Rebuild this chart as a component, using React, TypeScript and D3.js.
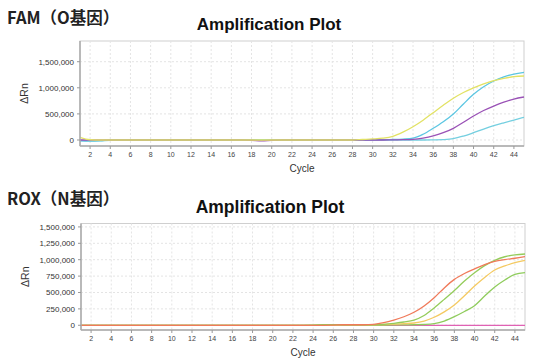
import * as d3 from 'd3';

const cycles = d3.range(1, 46);
const xTicks = d3.range(2, 46, 2);

// FAM (O gene)
const famYellow = [50000, 5000, 0, 0, 0, 0, 0, 0, 0, 0, 0, 0, 0, 0, 0, 0, 0, 0, 0, 0, 0, 0, 0, 0, 0, 0, 0, 0, 10000, 20000, 35000, 70000, 150000, 255000, 380000, 523000, 665000, 800000, 910000, 1000000, 1075000, 1136000, 1180000, 1213000, 1226000];
const famCyan = [-10000, -15000, -10000, 0, 0, 0, 0, 0, 0, 0, 0, 0, 0, 0, 0, 0, 0, 0, 0, 0, 0, 0, 0, 0, 0, 0, 0, 0, 0, 0, 5000, 10000, 18000, 35000, 110000, 224000, 350000, 498000, 690000, 875000, 1020000, 1130000, 1210000, 1264000, 1297000];
const famPurple = [0, 0, 0, 0, 0, 0, 0, 0, 0, 0, 0, 0, 0, 0, 0, 0, 0, -5000, -15000, -5000, 0, 0, 0, 0, 0, 0, 0, 0, 0, 0, 0, 3000, 6000, 12000, 35000, 77000, 140000, 224000, 340000, 460000, 565000, 651000, 725000, 785000, 824000];
const famLightCyan = [-15000, -20000, -15000, -5000, 0, 0, 0, 0, 0, 0, 0, 0, 0, 0, 0, 0, 0, 0, 0, 0, 0, 0, 0, 0, 0, 0, 0, 0, 0, 0, 0, 0, 0, 0, 0, 3000, 8000, 25000, 75000, 140000, 210000, 274000, 330000, 383000, 435000];
const famTicks = [0, 500000, 1000000, 1500000];

// ROX (N gene)
const roxMagenta = new Array(45).fill(0);
const roxGreen2 = [0, 0, 0, 0, 0, 0, 0, 0, 0, 0, 0, 0, 0, 0, 0, 0, 0, 0, 0, 0, 0, 0, 0, 0, 3000, 5000, 4000, 3000, 3000, 3000, 4000, 5000, 6000, 8000, 12000, 25000, 65000, 131000, 210000, 299000, 445000, 584000, 690000, 777000, 802000];
const roxYellow = [0, 0, 0, 0, 0, 0, 0, 0, 0, 0, 0, 0, 0, 0, 0, 0, 0, 0, 0, 0, 0, 0, 0, 0, 0, 3000, 6000, 8000, 6000, 8000, 12000, 18000, 25000, 35000, 65000, 122000, 205000, 309000, 450000, 599000, 730000, 843000, 905000, 954000, 991000];
const roxGreen1 = [0, 0, 0, 0, 0, 0, 0, 0, 0, 0, 0, 0, 0, 0, 0, 0, 0, 0, 0, 0, 0, 0, 0, 3000, 8000, 10000, 8000, 6000, 5000, 8000, 15000, 30000, 50000, 80000, 150000, 265000, 395000, 530000, 675000, 802000, 910000, 990000, 1045000, 1074000, 1087000];
const roxOrange = [0, 0, 0, 0, 0, 0, 0, 0, 0, 0, 0, 0, 0, 0, 0, 0, 0, 0, 0, 0, 0, 0, 0, 0, 0, 3000, 8000, 8000, 8000, 15000, 40000, 80000, 130000, 198000, 295000, 420000, 570000, 700000, 790000, 860000, 925000, 975000, 1002000, 1022000, 1046000];
const roxTicks = [0, 250000, 500000, 750000, 1000000, 1250000, 1500000];

const famSeries = [
  { values: famLightCyan, color: '#74cfe0' },
  { values: famCyan, color: '#5cc6e2' },
  { values: famPurple, color: '#9a52b6' },
  { values: famYellow, color: '#e2e264' },
];
const roxSeries = [
  { values: roxMagenta, color: '#e062b4' },
  { values: roxGreen2, color: '#8fcc5c' },
  { values: roxYellow, color: '#f4ca62' },
  { values: roxGreen1, color: '#94cc5a' },
  { values: roxOrange, color: '#f07a5a' },
];

const fmt = d3.format(',');
const font = 'Liberation Sans, Arial, sans-serif';

type PlotProps = {
  top: number; bottom: number; left: number; right: number;
  yDomain: [number, number]; yTicks: number[];
  series: { values: number[]; color: string }[];
  header: string; headerY: number; titleY: number; titleSize: number;
};

const Plot = ({ top, bottom, left, right, yDomain, yTicks, series, header, headerY, titleY, titleSize }: PlotProps) => {
  const x = d3.scaleLinear().domain([1, 45]).range([left, right]);
  const y = d3.scaleLinear().domain(yDomain).range([bottom, top]);
  const line = d3.line<number>().x((_, i) => x(cycles[i])).y(d => y(d)).curve(d3.curveMonotoneX);
  const mid = (left + right) / 2;
  return (
    <g>
      <text x={7} y={headerY} fontFamily="'Noto Sans CJK SC', sans-serif" fontWeight="bold" fontSize={16.5} fill="#222">{header}</text>
      <text x={mid - 33} y={titleY} textAnchor="middle" fontFamily={font} fontWeight="bold" fontSize={titleSize} fill="#111">Amplification Plot</text>
      <rect x={left} y={top} width={right - left} height={bottom - top} fill="#fff" stroke="#cfcfcf" />
      {xTicks.map(t => (
        <line key={'gx' + t} x1={x(t)} x2={x(t)} y1={top} y2={bottom} stroke="#e4e4e4" strokeDasharray="2,2" />
      ))}
      {yTicks.map(t => (
        <line key={'gy' + t} x1={left} x2={right} y1={y(t)} y2={y(t)} stroke="#e4e4e4" strokeDasharray="2,2" />
      ))}
      {series.map((s, i) => (
        <path key={i} d={line(s.values) ?? ''} fill="none" stroke={s.color} strokeWidth={1.3} />
      ))}
      <line x1={left} x2={right} y1={bottom} y2={bottom} stroke="#aaa" strokeWidth={1.5} />
      <line x1={left} x2={left} y1={top} y2={bottom} stroke="#aaa" strokeWidth={1.5} />
      {xTicks.map(t => (
        <g key={'tx' + t}>
          <line x1={x(t)} x2={x(t)} y1={bottom} y2={bottom + 3} stroke="#999" />
          <text x={x(t)} y={bottom + 11} textAnchor="middle" fontFamily={font} fontSize={7} fill="#444">{t}</text>
        </g>
      ))}
      {yTicks.map(t => (
        <g key={'ty' + t}>
          <line x1={left - 3} x2={left} y1={y(t)} y2={y(t)} stroke="#999" />
          <text x={left - 6} y={y(t) + 3} textAnchor="end" fontFamily={font} fontSize={8} fill="#333">{fmt(t)}</text>
        </g>
      ))}
      <text transform={`translate(${left - 52},${(top + bottom) / 2}) rotate(-90)`} textAnchor="middle" fontFamily={font} fontSize={10.5} fill="#333">ΔRn</text>
      <text x={mid} y={bottom + 26} textAnchor="middle" fontFamily={font} fontSize={10} fill="#333">Cycle</text>
    </g>
  );
};

export default function App() {
  return (
    <svg width={534} height={364} style={{ position: 'absolute', left: 0, top: 0, background: '#fff' }}>
      <Plot top={41} bottom={146} left={80} right={524} yDomain={[-115000, 1897000]} yTicks={famTicks}
        series={famSeries} header="FAM（O基因）" headerY={23.5} titleY={30} titleSize={17} />
      <Plot top={223.5} bottom={330} left={81} right={525} yDomain={[-72000, 1552000]} yTicks={roxTicks}
        series={roxSeries} header="ROX（N基因）" headerY={205} titleY={213} titleSize={17.5} />
    </svg>
  );
}
